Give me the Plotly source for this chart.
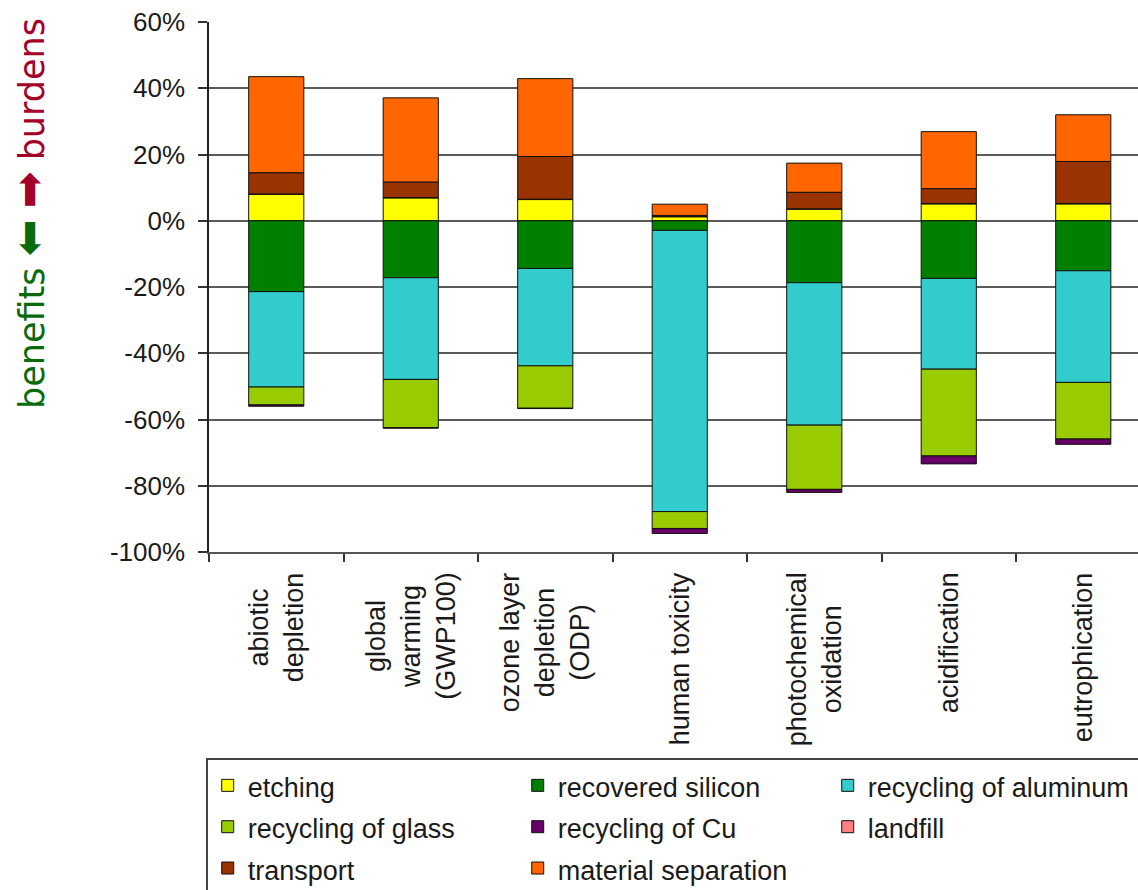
import plotly.graph_objects as go

# ---------------- data ----------------
categories = ["abiotic<br>depletion", "global<br>warming<br>(GWP100)", "ozone layer<br>depletion<br>(ODP)",
              "human toxicity", "photochemical<br>oxidation", "acidification", "eutrophication"]

etching = [8.0, 6.9, 6.4, 1.2, 3.5, 5.1, 5.1]
recovered_silicon = [-21.4, -17.2, -14.4, -2.9, -18.7, -17.4, -15.1]
recycling_aluminum = [-28.8, -30.7, -29.4, -84.9, -43.0, -27.4, -33.7]
recycling_glass = [-5.4, -14.6, -12.8, -5.1, -19.4, -26.2, -17.1]
recycling_cu = [-0.4, -0.1, -0.1, -1.5, -0.9, -2.4, -1.6]
landfill = [0.1, 0.1, 0.1, 0.1, 0.1, 0.1, 0.1]
transport = [6.4, 4.7, 12.9, 0.3, 5.0, 4.5, 12.7]
material_separation = [29.0, 25.4, 23.5, 3.4, 8.8, 17.2, 14.1]

y_tick_vals = [60, 40, 20, 0, -20, -40, -60, -80, -100]
y_tick_text = ["60%", "40%", "20%", "0%", "-20%", "-40%", "-60%", "-80%", "-100%"]

series = [
    ("etching", etching, "#FFFF00"),
    ("recovered silicon", recovered_silicon, "#008000"),
    ("recycling of aluminum", recycling_aluminum, "#33CCCC"),
    ("recycling of glass", recycling_glass, "#99CC00"),
    ("recycling of Cu", recycling_cu, "#660066"),
    ("landfill", landfill, "#FF8080"),
    ("transport", transport, "#993300"),
    ("material separation", material_separation, "#FF6600"),
]

# ---------------- figure ----------------
W, H = 1138, 890
ML, MR, MT, MB = 209, 0, 22, 338

fig = go.Figure()
for name, vals, color in series:
    fig.add_bar(
        x=categories, y=vals,
        name=f"<span style='font-size:27px'>{name}</span>",
        width=0.41,
        marker=dict(color=color, line=dict(color="#111111", width=1)),
    )

font_main = "Liberation Sans, Arial, sans-serif"

fig.update_layout(
    width=W, height=H,
    margin=dict(l=ML, r=MR, t=MT, b=MB, pad=0, autoexpand=False),
    barmode="relative",
    paper_bgcolor="white", plot_bgcolor="white",
    font=dict(family=font_main, color="#1a1a1a"),
    showlegend=True,
    legend=dict(
        orientation="h",
        x=-0.003, xanchor="left",
        y=-0.389, yanchor="top",
        entrywidth=265, entrywidthmode="pixels",
        font=dict(size=29.5, family=font_main, color="#1a1a1a"),
        bordercolor="#444444", borderwidth=1.5,
        bgcolor="white",
        traceorder="normal",
    ),
)

fig.update_xaxes(
    type="category",
    range=[-0.5, 6.407],
    showticklabels=False,
    tickson="boundaries",
    ticks="outside", ticklen=8, tickwidth=1.5, tickcolor="#333333",
    showgrid=False,
    showline=True, linecolor="#555555", linewidth=1.5,
    fixedrange=True,
)
fig.update_yaxes(
    range=[-100, 60],
    tickvals=y_tick_vals, ticktext=y_tick_text,
    tickfont=dict(size=26, family=font_main, color="#1a1a1a"),
    ticks="outside", ticklen=9, tickwidth=1.5, tickcolor="#333333",
    ticklabelstandoff=8,
    showgrid=True, gridcolor="#5a5a5a", gridwidth=1.5,
    zeroline=False,
    showline=True, linecolor="#222222", linewidth=1.5,
    fixedrange=True,
)

# category labels (centered multi-line, rotated)
for cat in categories:
    fig.add_annotation(
        x=cat, xref="x", y=-0.034, yref="paper",
        text=cat, textangle=-90, showarrow=False,
        xanchor="center", yanchor="top", align="center",
        font=dict(size=27, family=font_main, color="#1a1a1a"),
    )

# y axis title with coloured arrows
fig.add_annotation(
    x=-0.1943, xref="paper", y=0.6387, yref="paper",
    text=("<span style='color:#0B6A0B'>benefits <span style='font-size:44px'>\u2B05</span></span> "
          "<span style='color:#A3002A'><span style='font-size:44px'>\u27A1</span> burdens</span>"),
    textangle=-90, showarrow=False, xanchor="center", yanchor="middle",
    font=dict(size=35, family="DejaVu Sans, Verdana, sans-serif"),
)

fig.write_html("out.html")
